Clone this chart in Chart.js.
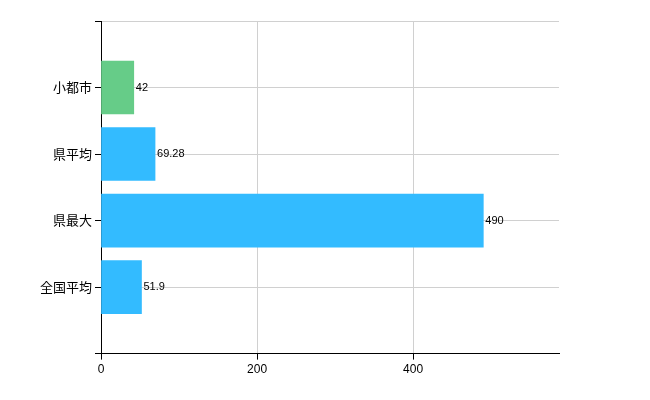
<!DOCTYPE html>
<html><head><meta charset="utf-8">
<script src="https://cdn.jsdelivr.net/npm/chart.js@4"></script>
<style>body{margin:0;background:#fff}#w{width:650px;height:400px}</style>
</head><body><div id="w"><canvas id="c"></canvas></div>
<script>
const categories = ['', '小都市', '県平均', '県最大', '全国平均', ''];
const values = [null, 42, 69.28, 490, 51.9, null];
const labels = ['', '42', '69.28', '490', '51.9', ''];
const colors = ['#000', '#66cc88', '#33bbff', '#33bbff', '#33bbff', '#000'];
const xTicks = [0, 200, 400];

const labelPlugin = {
  id: 'lbl',
  afterDatasetsDraw(chart) {
    const ctx = chart.ctx, meta = chart.getDatasetMeta(0);
    ctx.save();
    ctx.font = '11px Arial, "Liberation Sans", sans-serif';
    ctx.fillStyle = '#000';
    ctx.textBaseline = 'middle';
    meta.data.forEach((el, i) => {
      if (values[i] == null) return;
      ctx.fillText(labels[i], el.x + 2, el.y);
    });
    ctx.restore();
  }
};

new Chart(document.getElementById('c'), {
  type: 'bar',
  data: { labels: categories, datasets: [{ data: values, backgroundColor: colors, barThickness: 53 }] },
  options: {
    indexAxis: 'y', responsive: true, maintainAspectRatio: false, animation: false,
    layout: { padding: { top: 21, right: 91, bottom: 20, left: 37 } },
    plugins: { legend: { display: false }, tooltip: { enabled: false } },
    scales: {
      x: {
        min: 0, max: 587,
        afterBuildTicks: s => { s.ticks = xTicks.map(v => ({ value: v })); },
        grid: { color: '#d0d0d0', tickColor: '#000', tickLength: 6 },
        border: { color: '#000' },
        ticks: { color: '#000', font: { size: 12, family: 'Arial, "Liberation Sans", "Noto Sans CJK JP"' } }
      },
      y: {
        offset: false,
        grid: { offset: false, color: '#d0d0d0', tickColor: '#000', tickLength: 6 },
        border: { color: '#000' },
        ticks: { color: '#000', font: { size: 13, family: '"Noto Sans CJK JP", sans-serif' } }
      }
    }
  },
  plugins: [labelPlugin]
});
</script></body></html>
